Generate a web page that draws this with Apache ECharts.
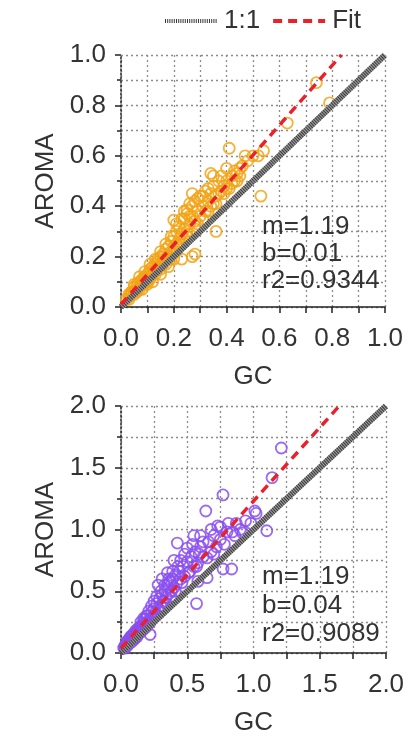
<!DOCTYPE html>
<html>
<head>
<meta charset="utf-8">
<script src="https://cdn.jsdelivr.net/npm/echarts@6/dist/echarts.min.js"></script>
<style>
html,body{margin:0;padding:0;background:#fff;}
#chart{width:413px;height:737px;}
</style>
</head>
<body>
<div id="chart"></div>
<script>
// ---- Data ----
const topGC = [0.02,0.03,0.03,0.04,0.04,0.05,0.05,0.06,0.06,0.07,0.07,0.08,0.08,0.09,0.09,0.10,0.10,0.11,0.11,0.12,0.12,0.13,0.13,0.14,0.14,0.15,0.15,0.16,0.16,0.17,0.17,0.18,0.18,0.19,0.19,0.20,0.20,0.21,0.21,0.22,0.22,0.23,0.24,0.24,0.25,0.25,0.26,0.27,0.27,0.28,0.28,0.29,0.30,0.30,0.31,0.32,0.32,0.33,0.34,0.35,0.35,0.36,0.37,0.38,0.38,0.39,0.40,0.40,0.41,0.42,0.43,0.44,0.45,0.46,0.47,0.50,0.52,0.54,0.41,0.53,0.36,0.27,0.23,0.63,0.74,0.79,0.12,0.15,0.18,0.08,0.10,0.20,0.27,0.25,0.34,0.20,0.28,0.06,0.09,0.13,0.16,0.04,0.11,0.14,
  0.03,0.05,0.06,0.07,0.08,0.09,0.10,0.11,0.12,0.13,0.14,0.15,0.16,0.17,0.18,0.19,0.20,0.21,0.22,0.23,0.24,0.25,0.26,0.26,0.28,0.29,0.29,0.31,0.31,0.33,0.33,0.34,0.35,0.36,0.37,0.39,0.40,0.42,0.43,0.44,0.45,0.48,0.05,0.07,0.09,0.11,0.13,0.15,0.17,0.19,0.21,0.23,0.24,0.26];
const topAROMA = [0.03,0.04,0.05,0.05,0.06,0.06,0.08,0.07,0.09,0.08,0.10,0.09,0.11,0.10,0.12,0.11,0.13,0.12,0.15,0.13,0.16,0.14,0.17,0.16,0.19,0.17,0.20,0.18,0.21,0.19,0.23,0.20,0.24,0.22,0.26,0.24,0.28,0.25,0.30,0.27,0.32,0.29,0.31,0.35,0.30,0.37,0.33,0.36,0.40,0.34,0.42,0.38,0.36,0.44,0.40,0.46,0.38,0.42,0.45,0.41,0.48,0.44,0.50,0.46,0.52,0.48,0.50,0.55,0.47,0.52,0.54,0.50,0.55,0.56,0.60,0.60,0.60,0.62,0.63,0.44,0.30,0.20,0.19,0.73,0.89,0.81,0.10,0.13,0.16,0.07,0.09,0.19,0.45,0.385,0.53,0.345,0.21,0.08,0.11,0.15,0.20,0.06,0.14,0.18,
  0.03,0.05,0.06,0.07,0.10,0.09,0.10,0.11,0.14,0.13,0.15,0.15,0.17,0.17,0.19,0.19,0.22,0.22,0.24,0.25,0.27,0.28,0.29,0.36,0.31,0.33,0.43,0.35,0.44,0.38,0.47,0.40,0.52,0.41,0.45,0.45,0.47,0.49,0.50,0.53,0.52,0.58,0.09,0.12,0.14,0.17,0.19,0.22,0.25,0.28,0.33,0.35,0.38,0.41];

const botGC = [0.02,0.03,0.04,0.04,0.05,0.05,0.06,0.07,0.07,0.08,0.08,0.09,0.10,0.10,0.11,0.12,0.12,0.13,0.14,0.15,0.15,0.16,0.17,0.18,0.18,0.20,0.20,0.22,0.22,0.23,0.24,0.25,0.26,0.27,0.28,0.29,0.30,0.31,0.32,0.33,0.34,0.35,0.36,0.37,0.38,0.39,0.40,0.41,0.42,0.425,0.44,0.45,0.47,0.48,0.50,0.51,0.53,0.55,0.56,0.57,0.58,0.60,0.62,0.64,0.65,0.66,0.68,0.70,0.72,0.73,0.75,0.77,0.77,0.80,0.81,0.835,0.86,0.90,0.94,1.02,1.10,1.14,1.21,0.31,0.50,0.45,0.60,0.28,0.35,1.01,0.06,0.09,0.13,0.16,0.19,0.25,0.03,0.11,
  0.03,0.05,0.06,0.08,0.09,0.10,0.11,0.12,0.13,0.14,0.15,0.16,0.17,0.18,0.19,0.20,0.21,0.22,0.23,0.24,0.25,0.26,0.27,0.29,0.30,0.32,0.33,0.34,0.36,0.38,0.39,0.41,0.43,0.46,0.48,0.52,0.54,0.57,0.59,0.62,0.65,0.68,0.70,0.75,0.78,0.84,0.87,0.92,0.98,0.40,0.55,0.58];
const botAROMA = [0.04,0.06,0.05,0.08,0.07,0.10,0.09,0.10,0.13,0.11,0.14,0.13,0.12,0.16,0.15,0.14,0.18,0.17,0.20,0.18,0.22,0.21,0.24,0.22,0.27,0.25,0.30,0.28,0.15,0.33,0.30,0.36,0.33,0.40,0.36,0.44,0.38,0.47,0.42,0.50,0.45,0.55,0.48,0.58,0.50,0.60,0.53,0.63,0.56,0.89,0.66,0.60,0.70,0.62,0.74,0.65,0.78,0.70,0.82,0.40,0.73,0.86,0.78,1.15,0.61,0.90,0.82,0.95,0.86,1.03,0.92,1.28,0.68,0.98,1.05,0.68,0.95,1.00,1.07,1.13,0.99,1.42,1.66,0.60,0.85,0.75,0.95,0.55,0.65,1.15,0.08,0.12,0.16,0.19,0.24,0.29,0.05,0.13,
  0.04,0.06,0.11,0.09,0.15,0.11,0.18,0.13,0.20,0.16,0.25,0.18,0.28,0.20,0.30,0.22,0.34,0.25,0.38,0.28,0.42,0.30,0.46,0.35,0.50,0.37,0.55,0.40,0.60,0.45,0.66,0.50,0.70,0.57,0.80,0.66,0.88,0.70,0.80,0.90,0.77,1.00,0.80,1.02,0.88,0.98,1.05,0.97,1.05,0.75,0.95,0.58];

const oneToOneTop = [0, 1.0];
const oneToOneBot = [0, 2.0];
const fitTopX = [0, 0.835];
const fitTopY = [0.01, 1.0];
const fitBotX = [0, 1.647];
const fitBotY = [0.04, 2.0];

const statsSlope = ['1.19', '1.19'];
const statsIntercept = ['0.01', '0.04'];
const statsR2 = ['0.9344', '0.9089'];

const axisTop = [0, 1.0, 0.2];
const axisBot = [0, 2.0, 0.5];

const FONT = "'Liberation Sans', Arial, sans-serif";
const TXT = '#333';
const ORANGE = '#f2a516';
const PURPLE = '#8a4ff0';

const zip = (a, b) => a.map((v, i) => [v, b[i]]);

function makeAxis(grid, ticks, isY, name) {
  return {
    type: 'value', gridIndex: grid,
    min: ticks[0], max: ticks[1], interval: ticks[2],
    name: name, nameLocation: 'middle',
    nameGap: isY ? 60 : 57,
    nameTextStyle: {fontSize: 26, color: TXT, fontFamily: FONT},
    axisLine: {show: true, onZero: false, lineStyle: {color: '#222', width: 1.5, type: isY ? [2, 2] : 'solid'}},
    axisTick: {show: true, length: 6, lineStyle: {color: '#222', width: 1.5}},
    minorTick: {show: true, splitNumber: 2, length: isY ? 4 : 6, lineStyle: {color: '#222', width: 1.5}},
    axisLabel: {fontSize: 26, color: TXT, fontFamily: FONT, margin: isY ? 15 : 19,
      formatter: v => v.toFixed(1)},
    splitLine: {show: true, lineStyle: {color: '#8c8c8c', type: [2, 3], width: 1.3}},
    minorSplitLine: {show: true, lineStyle: {color: '#8c8c8c', type: [2, 3], width: 1.3}}
  };
}

function scatter(idx, x, y, color) {
  return {
    type: 'scatter', xAxisIndex: idx, yAxisIndex: idx,
    data: zip(x, y), symbol: 'circle', symbolSize: 11,
    itemStyle: {color: 'rgba(255,255,255,0)', borderColor: color, borderWidth: 1.8, opacity: 0.85},
    silent: true, z: 2
  };
}
function oneToOne(idx, arr) {
  return [
    {type: 'line', name: '1:1 base', xAxisIndex: idx, yAxisIndex: idx, data: zip(arr, arr),
      symbol: 'none', lineStyle: {color: '#9a9a9a', width: 6}, z: 3, silent: true},
    {type: 'line', name: '1:1', xAxisIndex: idx, yAxisIndex: idx, data: zip(arr, arr),
      symbol: 'none', itemStyle: {color: '#555'},
      lineStyle: {color: '#3a3a3a', width: 6, type: [1, 1.2]}, z: 4, silent: true}
  ];
}
function fit(idx, x, y) {
  return {type: 'line', name: 'Fit', xAxisIndex: idx, yAxisIndex: idx, data: zip(x, y),
    symbol: 'none', itemStyle: {color: '#e8212b'},
    lineStyle: {color: '#e8212b', width: 3.5, type: [9, 6]}, z: 5, silent: true};
}

function statsText(i) {
  return 'm=' + statsSlope[i] + '\nb=' + statsIntercept[i] + '\nr2=' + statsR2[i];
}

const chart = echarts.init(document.getElementById('chart'), null, {renderer: 'canvas'});
chart.setOption({
  animation: false,
  backgroundColor: '#fff',
  textStyle: {fontFamily: FONT},
  legend: {
    data: ['1:1', 'Fit'], left: 158, top: 3,
    itemWidth: 52, itemHeight: 14, itemGap: 11,
    itemStyle: {opacity: 0},
    lineStyle: {width: 4},
    textStyle: {fontSize: 26, color: TXT, fontFamily: FONT, padding: [0, 0, 0, 2]},
    selectedMode: false
  },
  grid: [
    {left: 121, top: 55, width: 264, height: 252},
    {left: 121, top: 406, width: 265, height: 253}
  ],
  xAxis: [makeAxis(0, axisTop, false, 'GC'), makeAxis(1, axisBot, false, 'GC')],
  yAxis: [makeAxis(0, axisTop, true, 'AROMA'), makeAxis(1, axisBot, true, 'AROMA')],
  graphic: [
    {type: 'text', left: 262, top: 213, z: 10,
      style: {text: statsText(0), font: '26px ' + FONT, fill: TXT, lineHeight: 27}},
    {type: 'text', left: 262, top: 563, z: 10,
      style: {text: statsText(1), font: '26px ' + FONT, fill: TXT, lineHeight: 28.5}}
  ],
  series: [
    scatter(0, topGC, topAROMA, ORANGE),
    scatter(1, botGC, botAROMA, PURPLE),
    ...oneToOne(0, oneToOneTop),
    ...oneToOne(1, oneToOneBot),
    fit(0, fitTopX, fitTopY),
    fit(1, fitBotX, fitBotY)
  ]
});
</script>
</body>
</html>
